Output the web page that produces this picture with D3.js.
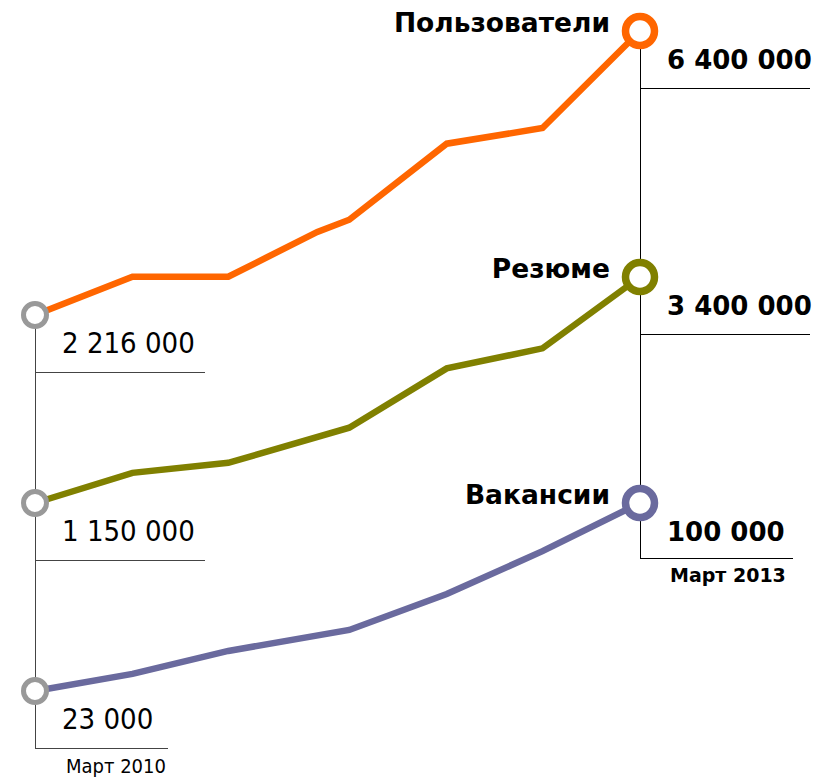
<!DOCTYPE html>
<html>
<head>
<meta charset="utf-8">
<script src="https://cdn.jsdelivr.net/npm/d3@7"></script>
<style>
  body { margin: 0; background: #fff; }
  svg { display: block; }
  .val { font-family: "DejaVu Sans Condensed", "Noto Sans", sans-serif; font-size: 29px; fill: #000; }
  .bold { font-family: "DejaVu Sans", sans-serif; font-weight: bold; fill: #000; }
</style>
</head>
<body>
<div id="chart"></div>
<script>
'use strict';

// months since March 2010
var months = [0, 5.8, 11.5, 16.8, 18.7, 24.5, 30.2, 36];
var startLabel = 'Март 2010';
var endLabel = 'Март 2013';

var seriesNames = ['Пользователи', 'Резюме', 'Вакансии'];
var users = [2216000, 2780000, 2780000, 3440000, 3620000, 4740000, 4970000, 6400000];
var resumes = [1150000, 1450000, 1550000, null, 1900000, 2490000, 2690000, 3400000];
var vacancies = [23000, 30000, 39400, null, 48000, 62700, 80300, 100000];

var colors = ['#ff6600', '#808000', '#6a6a9e'];
// each series has its own vertical band: [y at start value, y at end value]
var bands = [[315, 31], [503, 277], [691, 503]];

var width = 833, height = 777;
var x = d3.scaleLinear().domain([0, 36]).range([35, 640]);
var fmt = function(v) { return d3.format(',')(v).replace(/,/g, ' '); };

var svg = d3.select('#chart').append('svg')
  .attr('width', width)
  .attr('height', height);

var series = [users, resumes, vacancies].map(function(values, i) {
  var pts = [];
  values.forEach(function(v, j) {
    if (v != null) pts.push({ m: months[j], v: v });
  });
  var y = d3.scaleLinear()
    .domain([values[0], values[values.length - 1]])
    .range(bands[i]);
  return { name: seriesNames[i], color: colors[i], pts: pts, y: y };
});

var first = series.map(function(s) { return s.y(s.pts[0].v); });
var last = series.map(function(s) { return s.y(s.pts[s.pts.length - 1].v); });

// left axis
svg.append('line')
  .attr('x1', x(0) + 0.5).attr('x2', x(0) + 0.5)
  .attr('y1', first[0]).attr('y2', first[2] + 58)
  .attr('stroke', '#444').attr('stroke-width', 1);

series.forEach(function(s, i) {
  var y0 = first[i];
  svg.append('line')
    .attr('x1', x(0)).attr('x2', i === 2 ? 168 : 205)
    .attr('y1', y0 + 57.5).attr('y2', y0 + 57.5)
    .attr('stroke', '#444').attr('stroke-width', 1);
  svg.append('text')
    .attr('class', 'val')
    .attr('x', 62).attr('y', y0 + 38)
    .text(fmt(s.pts[0].v));
});

svg.append('text')
  .attr('class', 'val')
  .style('font-size', '20px')
  .attr('x', 66).attr('y', 773)
  .text(startLabel);

// right axis
svg.append('line')
  .attr('x1', x(36) + 0.5).attr('x2', x(36) + 0.5)
  .attr('y1', last[0]).attr('y2', last[2] + 55)
  .attr('stroke', '#000').attr('stroke-width', 1);

series.forEach(function(s, i) {
  var y1 = last[i];
  var ly = i === 2 ? y1 + 55.5 : y1 + 57.5;
  svg.append('line')
    .attr('x1', x(36)).attr('x2', i === 2 ? 793 : 810)
    .attr('y1', ly).attr('y2', ly)
    .attr('stroke', '#000').attr('stroke-width', 1);
  svg.append('text')
    .attr('class', 'bold')
    .style('font-size', '26px')
    .attr('x', 667).attr('y', y1 + 38)
    .text(fmt(s.pts[s.pts.length - 1].v));
  svg.append('text')
    .attr('class', 'bold')
    .style('font-size', '26.5px')
    .attr('text-anchor', 'end')
    .attr('x', 610).attr('y', y1 + 1)
    .text(s.name);
});

svg.append('text')
  .attr('class', 'bold')
  .style('font-size', '19px')
  .attr('x', 670).attr('y', 582)
  .text(endLabel);

// lines
var line = d3.line()
  .x(function(d) { return x(d.m); });

series.forEach(function(s) {
  svg.append('path')
    .datum(s.pts)
    .attr('d', line.y(function(d) { return s.y(d.v); }))
    .attr('fill', 'none')
    .attr('stroke', s.color)
    .attr('stroke-width', 6.5)
    .attr('stroke-linejoin', 'miter');
});

// markers
series.forEach(function(s, i) {
  svg.append('circle')
    .attr('cx', x(0)).attr('cy', first[i])
    .attr('r', 11.5)
    .attr('fill', '#fff')
    .attr('stroke', '#999')
    .attr('stroke-width', 5);
  svg.append('circle')
    .attr('cx', x(36)).attr('cy', last[i])
    .attr('r', 14.5)
    .attr('fill', '#fff')
    .attr('stroke', s.color)
    .attr('stroke-width', 7.5);
});
</script>
</body>
</html>
